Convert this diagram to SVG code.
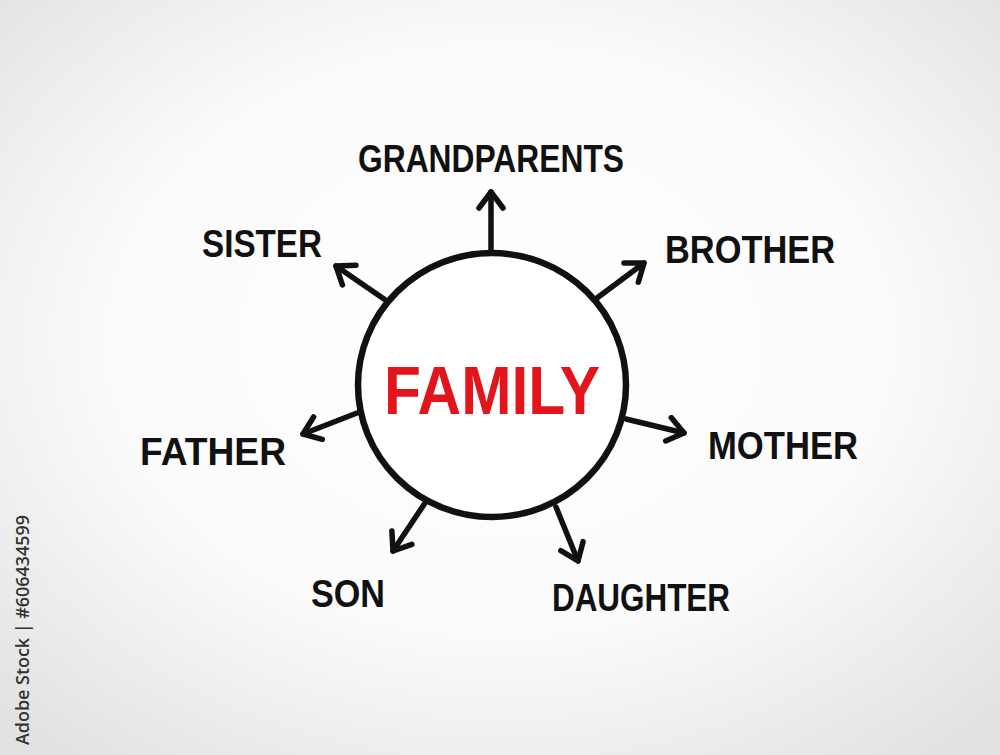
<svg xmlns="http://www.w3.org/2000/svg" width="1000" height="755" viewBox="0 0 1000 755">
<defs>
<radialGradient id="bg" cx="50%" cy="45%" r="70%">
<stop offset="0" stop-color="#ffffff"/>
<stop offset="0.55" stop-color="#fbfbfb"/>
<stop offset="1" stop-color="#e2e2e2"/>
</radialGradient>
<marker id="ah" viewBox="-22 -15 26 30" refX="0" refY="0" markerWidth="26" markerHeight="30" markerUnits="userSpaceOnUse" orient="auto">
<path d="M-16,-12 L0,0 L-16,12" fill="none" stroke="#111" stroke-width="5.5" stroke-linecap="round" stroke-linejoin="round"/>
</marker>
<style>
.lbl{font-family:"Liberation Sans",Arial,sans-serif;font-weight:bold;font-size:39px;fill:#111;}
.conn line{stroke:#111;stroke-width:5.5;stroke-linecap:round;marker-end:url(#ah);}
</style>
</defs>
<rect width="1000" height="755" fill="url(#bg)"/>
<g class="conn" id="connectors">
<line x1="491" y1="250" x2="491" y2="192"/>
<line x1="384" y1="299" x2="336" y2="266"/>
<line x1="597" y1="298" x2="644" y2="263"/>
<line x1="357" y1="413" x2="303" y2="434"/>
<line x1="626" y1="419" x2="684" y2="433"/>
<line x1="425" y1="503" x2="393" y2="551"/>
<line x1="556" y1="507" x2="578" y2="561"/>
</g>
<g id="family">
<ellipse cx="492" cy="385" rx="134" ry="132" fill="#ffffff" stroke="#111" stroke-width="6.5"/>
<text x="492" y="414" text-anchor="middle" font-family="Liberation Sans, Arial, sans-serif" font-weight="bold" font-size="69" fill="#e3141b" textLength="216" lengthAdjust="spacingAndGlyphs">FAMILY</text>
</g>
<g id="grandparents"><text class="lbl" x="358" y="172" textLength="266" lengthAdjust="spacingAndGlyphs">GRANDPARENTS</text></g>
<g id="sister"><text class="lbl" x="202" y="257" textLength="120" lengthAdjust="spacingAndGlyphs">SISTER</text></g>
<g id="brother"><text class="lbl" x="665" y="263" textLength="170" lengthAdjust="spacingAndGlyphs">BROTHER</text></g>
<g id="father"><text class="lbl" x="140" y="465" textLength="146" lengthAdjust="spacingAndGlyphs">FATHER</text></g>
<g id="mother"><text class="lbl" x="708" y="459" textLength="150" lengthAdjust="spacingAndGlyphs">MOTHER</text></g>
<g id="son"><text class="lbl" x="311" y="607" textLength="74" lengthAdjust="spacingAndGlyphs">SON</text></g>
<g id="daughter"><text class="lbl" x="552" y="611" textLength="178" lengthAdjust="spacingAndGlyphs">DAUGHTER</text></g>
<text transform="translate(29,745) rotate(-90)" font-family="Open Sans, DejaVu Sans, sans-serif" font-size="18" font-weight="600" fill="#333" textLength="230" lengthAdjust="spacingAndGlyphs">Adobe Stock | #606434599</text>
</svg>
